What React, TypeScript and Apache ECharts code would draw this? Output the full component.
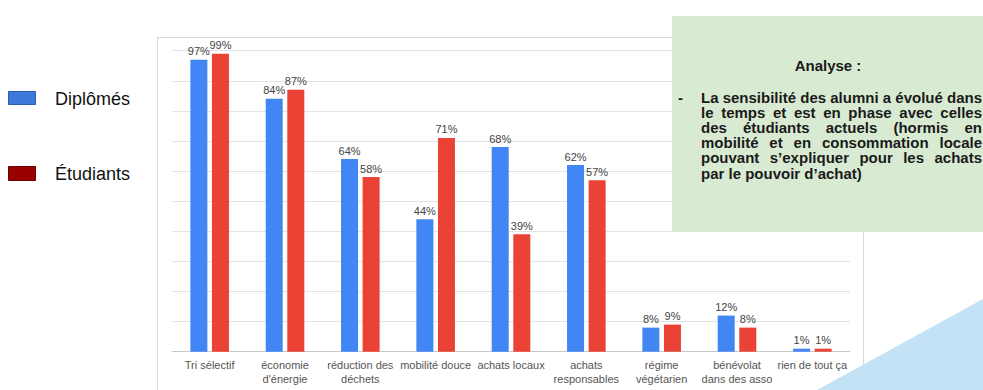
import React, { useEffect, useRef } from "react";
import * as echarts from "echarts";

const categories = [
  "Tri sélectif",
  "économie\nd'énergie",
  "réduction des\ndéchets",
  "mobilité douce",
  "achats locaux",
  "achats\nresponsables",
  "régime\nvégétarien",
  "bénévolat\ndans des asso",
  "rien de tout ça",
];
const diplomes = [97, 84, 64, 44, 68, 62, 8, 12, 1];
const etudiants = [99, 87, 58, 71, 39, 57, 9, 8, 1];
const legendNames = ["Diplômés", "Étudiants"];
const analyseTitle = "Analyse :";
const analyseLines = [
  "La sensibilité des alumni a évolué dans",
  "le temps et est en phase avec celles",
  "des étudiants actuels (hormis en",
  "mobilité et en consommation locale",
  "pouvant s’expliquer pour les achats",
  "par le pouvoir d’achat)",
];

const FONT = "'Liberation Sans', Arial, Helvetica, sans-serif";
const BOX_FS = 15;

function justifiedLines(): any[] {
  const fs = BOX_FS;
  const left = 701;
  const right = 982;
  const width = right - left;
  const canvas = document.createElement("canvas");
  const ctx = canvas.getContext("2d")!;
  ctx.font = `bold ${fs}px 'Liberation Sans'`;
  const spaceW = ctx.measureText(" ").width;
  const out: any[] = [];
  analyseLines.forEach((line, i) => {
    const y = 97.5 + i * 15.1;
    const words = line.split(" ");
    const widths = words.map((w) => ctx.measureText(w).width);
    const sum = widths.reduce((a, b) => a + b, 0);
    let gap = spaceW;
    if (i < analyseLines.length - 1 && words.length > 1) {
      gap = Math.max(spaceW * 0.6, (width - sum) / (words.length - 1));
    }
    let x = left;
    words.forEach((w, j) => {
      out.push({
        type: "text",
        z: 20,
        x,
        y,
        style: {
          text: w,
          fill: "#1a1a1a",
          font: `bold ${fs}px ${FONT}`,
          verticalAlign: "middle",
          align: "left",
        },
      });
      x += widths[j] + gap;
    });
  });
  return out;
}

export default function App() {
  const ref = useRef<HTMLDivElement>(null);
  useEffect(() => {
    document.body.style.margin = "0";
    const chart = echarts.init(ref.current!, null, { renderer: "svg" });
    const labelCfg = {
      show: true,
      position: "top" as const,
      distance: 3,
      formatter: "{c}%",
      color: "#444",
      fontSize: 11,
      fontFamily: FONT,
    };
    chart.setOption({
      animation: false,
      backgroundColor: "#ffffff",
      grid: { left: 172, right: 133, top: 50.7, bottom: 38.3, containLabel: false },
      xAxis: {
        type: "category",
        data: categories,
        axisLine: { show: true, lineStyle: { color: "#c8c8c8", width: 1 } },
        axisTick: { show: false },
        axisLabel: {
          color: "#555",
          fontSize: 11,
          fontFamily: FONT,
          interval: 0,
          margin: 6,
          lineHeight: 14,
        },
      },
      yAxis: {
        type: "value",
        min: 0,
        max: 100,
        interval: 10,
        axisLabel: { show: false },
        axisLine: { show: false },
        axisTick: { show: false },
        splitLine: { lineStyle: { color: "#e3e3e3", width: 1 } },
      },
      series: [
        {
          name: legendNames[0],
          type: "bar",
          data: diplomes,
          barWidth: 17,
          barGap: "27%",
          itemStyle: { color: "#4285F4" },
          label: labelCfg,
        },
        {
          name: legendNames[1],
          type: "bar",
          data: etudiants,
          barWidth: 17,
          itemStyle: { color: "#EA4335" },
          label: labelCfg,
        },
      ],
      graphic: [
        // chart frame
        { type: "line", z: 5, shape: { x1: 157.5, y1: 37, x2: 157.5, y2: 390 }, style: { stroke: "#d9d9d9", lineWidth: 1 } },
        { type: "line", z: 5, shape: { x1: 157, y1: 37.5, x2: 863, y2: 37.5 }, style: { stroke: "#d9d9d9", lineWidth: 1 } },
        { type: "line", z: 5, shape: { x1: 863.5, y1: 37, x2: 863.5, y2: 390 }, style: { stroke: "#d9d9d9", lineWidth: 1 } },
        // legend
        { type: "rect", z: 10, shape: { x: 8.5, y: 91.5, width: 27, height: 13 }, style: { fill: "#3c78d8", stroke: "#2b5fb0", lineWidth: 1 } },
        { type: "text", z: 10, x: 55, y: 99, style: { text: legendNames[0], fill: "#111", font: `18px ${FONT}`, verticalAlign: "middle" } },
        { type: "rect", z: 10, shape: { x: 8.5, y: 166.5, width: 27, height: 14 }, style: { fill: "#990000", stroke: "#6d0000", lineWidth: 1 } },
        { type: "text", z: 10, x: 55, y: 174, style: { text: legendNames[1], fill: "#111", font: `18px ${FONT}`, verticalAlign: "middle" } },
        // analysis box
        { type: "rect", z: 15, shape: { x: 672, y: 16, width: 320, height: 216 }, style: { fill: "#d9ead3" } },
        { type: "text", z: 20, x: 828, y: 65, style: { text: analyseTitle, fill: "#1a1a1a", font: `bold ${BOX_FS}px ${FONT}`, align: "center", verticalAlign: "middle" } },
        { type: "text", z: 20, x: 678, y: 97.5, style: { text: "-", fill: "#1a1a1a", font: `bold ${BOX_FS}px ${FONT}`, verticalAlign: "middle" } },
        ...justifiedLines(),
        // decorative triangle
        { type: "polygon", z: 25, shape: { points: [[817, 390], [983, 299], [983, 390]] }, style: { fill: "#c3e2f5" } },
      ],
    });
    return () => chart.dispose();
  }, []);
  return <div ref={ref} style={{ width: 983, height: 390 }} />;
}
